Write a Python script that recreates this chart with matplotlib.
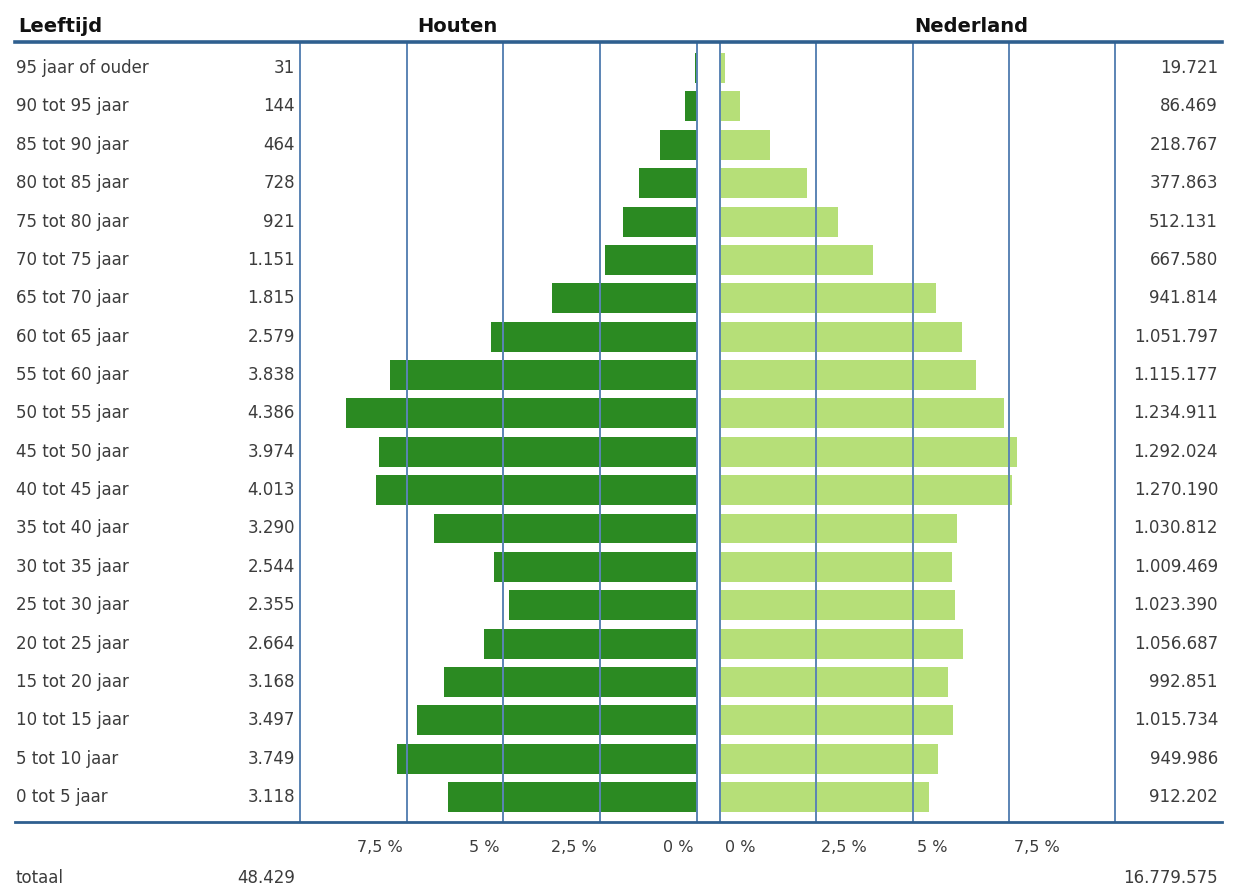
"""
Bevolkingspiramide Houten tegenover Nederland, per leeftijdsgroep van vijf jaar.
"""
import matplotlib
matplotlib.use("Agg")
import matplotlib.pyplot as plt
import numpy as np
from matplotlib.lines import Line2D
from matplotlib.transforms import blended_transform_factory

leeftijden = ['95 jaar of ouder', '90 tot 95 jaar', '85 tot 90 jaar',
              '80 tot 85 jaar', '75 tot 80 jaar', '70 tot 75 jaar',
              '65 tot 70 jaar', '60 tot 65 jaar', '55 tot 60 jaar',
              '50 tot 55 jaar', '45 tot 50 jaar', '40 tot 45 jaar',
              '35 tot 40 jaar', '30 tot 35 jaar', '25 tot 30 jaar',
              '20 tot 25 jaar', '15 tot 20 jaar', '10 tot 15 jaar',
              '5 tot 10 jaar', '0 tot 5 jaar']
houten = [31, 144, 464, 728, 921, 1151, 1815, 2579, 3838, 4386,
          3974, 4013, 3290, 2544, 2355, 2664, 3168, 3497, 3749, 3118]
nederland = [19721, 86469, 218767, 377863, 512131, 667580, 941814,
             1051797, 1115177, 1234911, 1292024, 1270190, 1030812,
             1009469, 1023390, 1056687, 992851, 1015734, 949986, 912202]
ticks = [0, 2.5, 5, 7.5]
tick_labels = ['0 %', '2,5 %', '5 %', '7,5 %']

DONKERGROEN = '#2b8a22'
LICHTGROEN = '#b6df78'
LIJN = '#2f5f8f'
RASTER = '#5b84b4'
TEKST = '#3c3c3c'
FS = 12


def getal(n):
    """Getal met punt als scheidingsteken voor duizendtallen."""
    return f"{n:,}".replace(',', '.')


W, H = 1233, 891
fig = plt.figure(figsize=(W / 100, H / 100), dpi=100)
fig.patch.set_facecolor('white')


def px_axes(x0, x1, y0, y1):
    return fig.add_axes([x0 / W, 1 - y1 / H, (x1 - x0) / W, (y1 - y0) / H])


y_top, y_bot = 42, 822
ax_l = px_axes(300, 697, y_top, y_bot)
ax_r = px_axes(720, 1115, y_top, y_bot)

n = len(leeftijden)
ypos = np.arange(n)[::-1]
pct_h = np.array(houten) / sum(houten) * 100
pct_n = np.array(nederland) / sum(nederland) * 100
xmax = 10.25

for ax, pct, kleur in ((ax_l, pct_h, DONKERGROEN), (ax_r, pct_n, LICHTGROEN)):
    ax.barh(ypos, pct, height=0.78, color=kleur, zorder=2)
    ax.set_ylim(-0.65, n - 1 + 0.68)
    for t in ticks[1:]:
        ax.axvline(t, color=RASTER, lw=1.4, zorder=3)
    ax.set_xticks([])
    ax.set_yticks([])
    for s in ('top', 'bottom'):
        ax.spines[s].set_visible(False)
    for s in ('left', 'right'):
        ax.spines[s].set_color(RASTER)
        ax.spines[s].set_linewidth(1.4)
        ax.spines[s].set_zorder(3)
    ax.patch.set_alpha(0)

ax_l.set_xlim(xmax, 0)
ax_r.set_xlim(0, xmax)

# horizontale scheidingslijnen boven en onder de tabel
fig.add_artist(Line2D([15 / W, 1222 / W], [1 - y_top / H] * 2,
                      color=LIJN, lw=2.6))
fig.add_artist(Line2D([15 / W, 1222 / W], [1 - y_bot / H] * 2,
                      color=LIJN, lw=2.0))

# kopjes
kop = dict(fontsize=14, fontweight='bold', color='#111111', va='baseline')
fig.text(18 / W, 1 - 32 / H, 'Leeftijd', ha='left', **kop)
fig.text(457 / W, 1 - 32 / H, 'Houten', ha='center', **kop)
fig.text(971 / W, 1 - 32 / H, 'Nederland', ha='center', **kop)

# rijlabels en aantallen
tr = blended_transform_factory(fig.transFigure, ax_l.transData)
for y, naam, h, nl in zip(ypos, leeftijden, houten, nederland):
    fig.text(16 / W, y, naam, transform=tr, fontsize=FS, color=TEKST,
             ha='left', va='center')
    fig.text(295 / W, y, getal(h), transform=tr, fontsize=FS, color=TEKST,
             ha='right', va='center')
    fig.text(1218 / W, y, getal(nl), transform=tr, fontsize=FS, color=TEKST,
             ha='right', va='center')

# percentages onder de assen
tr_l = blended_transform_factory(ax_l.transData, fig.transFigure)
tr_r = blended_transform_factory(ax_r.transData, fig.transFigure)
for t, lab in zip(ticks, tick_labels):
    fig.text(t + 0.1, 1 - 848 / H, lab, transform=tr_l, fontsize=11.5,
             color=TEKST, ha='right', va='center')
    fig.text(t + 0.12, 1 - 848 / H, lab, transform=tr_r, fontsize=11.5,
             color=TEKST, ha='left', va='center')

# totalen
fig.text(16 / W, 1 - 878 / H, 'totaal', fontsize=FS, color=TEKST,
         ha='left', va='center')
fig.text(295 / W, 1 - 878 / H, getal(sum(houten)), fontsize=FS, color=TEKST,
         ha='right', va='center')
fig.text(1218 / W, 1 - 878 / H, getal(sum(nederland)), fontsize=FS,
         color=TEKST, ha='right', va='center')

fig.savefig('out.png', dpi=100, facecolor='white')
